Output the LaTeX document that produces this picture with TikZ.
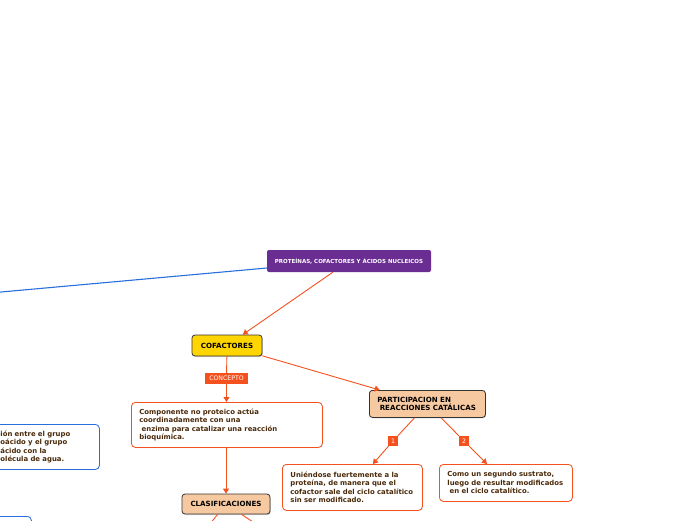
\documentclass[tikz,border=0pt]{standalone}
\usepackage{fontspec}
\setmainfont{DejaVu Sans}
\usetikzlibrary{arrows.meta,shadows}
\definecolor{titlepurple}{RGB}{106,45,145}
\definecolor{cofyellow}{RGB}{255,213,0}
\definecolor{peach}{RGB}{247,201,160}
\definecolor{linkorange}{RGB}{244,81,30}
\definecolor{textbrown}{RGB}{74,42,10}
\definecolor{boxblue}{RGB}{40,110,220}
\begin{document}
\begin{tikzpicture}[x=1pt, y=-1pt,
    conn/.style={draw=linkorange, line width=0.9pt, -{Triangle[length=5pt,width=6pt]}},
    plainconn/.style={draw=linkorange, line width=0.9pt},
    mainbox/.style={rectangle, rounded corners=3pt, draw=black!80, line width=0.8pt,
        font=\fontsize{7.1}{8.5}\selectfont\bfseries, text=black,
        drop shadow={shadow xshift=0.8pt, shadow yshift=-1pt, opacity=0.35}},
    notebox/.style={rectangle, rounded corners=4pt, draw=linkorange, fill=white, line width=0.8pt,
        font=\fontsize{6.9}{8.5}\selectfont\bfseries, text=textbrown, align=left,
        inner xsep=8pt, anchor=north west,
        drop shadow={shadow xshift=0.6pt, shadow yshift=-0.8pt, opacity=0.2}},
    tag/.style={rectangle, fill=linkorange, text=white, inner sep=0pt,
        font=\fontsize{6.2}{7}\selectfont}
]
    \useasboundingbox (0,0) rectangle (696,520);

    % top of the map
    \node[rectangle, rounded corners=2pt, fill=titlepurple, text=white,
        minimum width=164pt, minimum height=22pt, inner sep=0pt,
        font=\fontsize{5.5}{6}\selectfont\bfseries] (title) at (349,261)
        {PROTEÍNAS, COFACTORES Y ÁCIDOS NUCLEICOS};
    \coordinate (offleft) at (-10,293);
    \draw[boxblue, line width=1.1pt] (title.west |- 0,268) -- (offleft);

    \node[mainbox, fill=cofyellow, minimum width=70pt, minimum height=21pt] (cof) at (227,345.5) {COFACTORES};
    \draw[conn] (title) -- (cof);

    % concept branch
    \node[tag, minimum width=43pt, minimum height=11pt] (concepto) at (226.5,378.5) {CONCEPTO};
    \node[notebox, text width=175pt, minimum height=45pt] (concept) at (131,402)
        {Componente no proteico actúa\\coordinadamente con una\\\ enzima para catalizar una reacción\\bioquímica.};
    \draw[plainconn] (cof) -- (concepto);
    \draw[conn] (concepto) -- (concept.north -| concepto);

    \node[mainbox, fill=peach, minimum width=88pt, minimum height=20pt] (clas) at (226,504) {CLASIFICACIONES};
    \draw[conn] (concept.south -| clas) -- (clas);
    \coordinate (clasleft) at (205,530);
    \coordinate (clasright) at (262,528);
    \draw[plainconn] (clas) -- (clasleft);
    \draw[plainconn] (clas) -- (clasright);

    % participation branch
    \node[mainbox, fill=peach, align=left, text width=100pt, inner xsep=8pt,
        minimum height=27pt, anchor=north west] (part) at (369,390)
        {PARTICIPACION EN\\\ REACCIONES CATÁLICAS};
    \draw[conn] (cof) -- (part);

    \node[tag, minimum width=10pt, minimum height=10pt] (one) at (393,441) {1};
    \node[tag, minimum width=10pt, minimum height=10pt] (two) at (464,441) {2};
    \node[notebox, text width=124pt, minimum height=46pt] (bound) at (282,464)
        {Uniéndose fuertemente a la\\proteína, de manera que el\\cofactor sale del ciclo catalítico\\sin ser modificado.};
    \node[notebox, text width=117pt, minimum height=37pt] (substrate) at (439,464)
        {Como un segundo sustrato,\\luego de resultar modificados\\\ en el ciclo catalítico.};
    \draw[plainconn] (part) -- (one);
    \draw[conn] (one) -- (bound);
    \draw[plainconn] (part) -- (two);
    \draw[conn] (two) -- (substrate);

    % boxes cut by the left edge
    \node[notebox, draw=boxblue, text width=88pt, inner xsep=11pt, minimum height=45pt] (union) at (-11,424)
        {ión entre el grupo\\oácido y el grupo\\ácido con la\\olécula de agua.};
    \node[notebox, draw=boxblue, minimum width=52pt, minimum height=30pt] (lowerleft) at (-21,516) {};
\end{tikzpicture}
\end{document}
